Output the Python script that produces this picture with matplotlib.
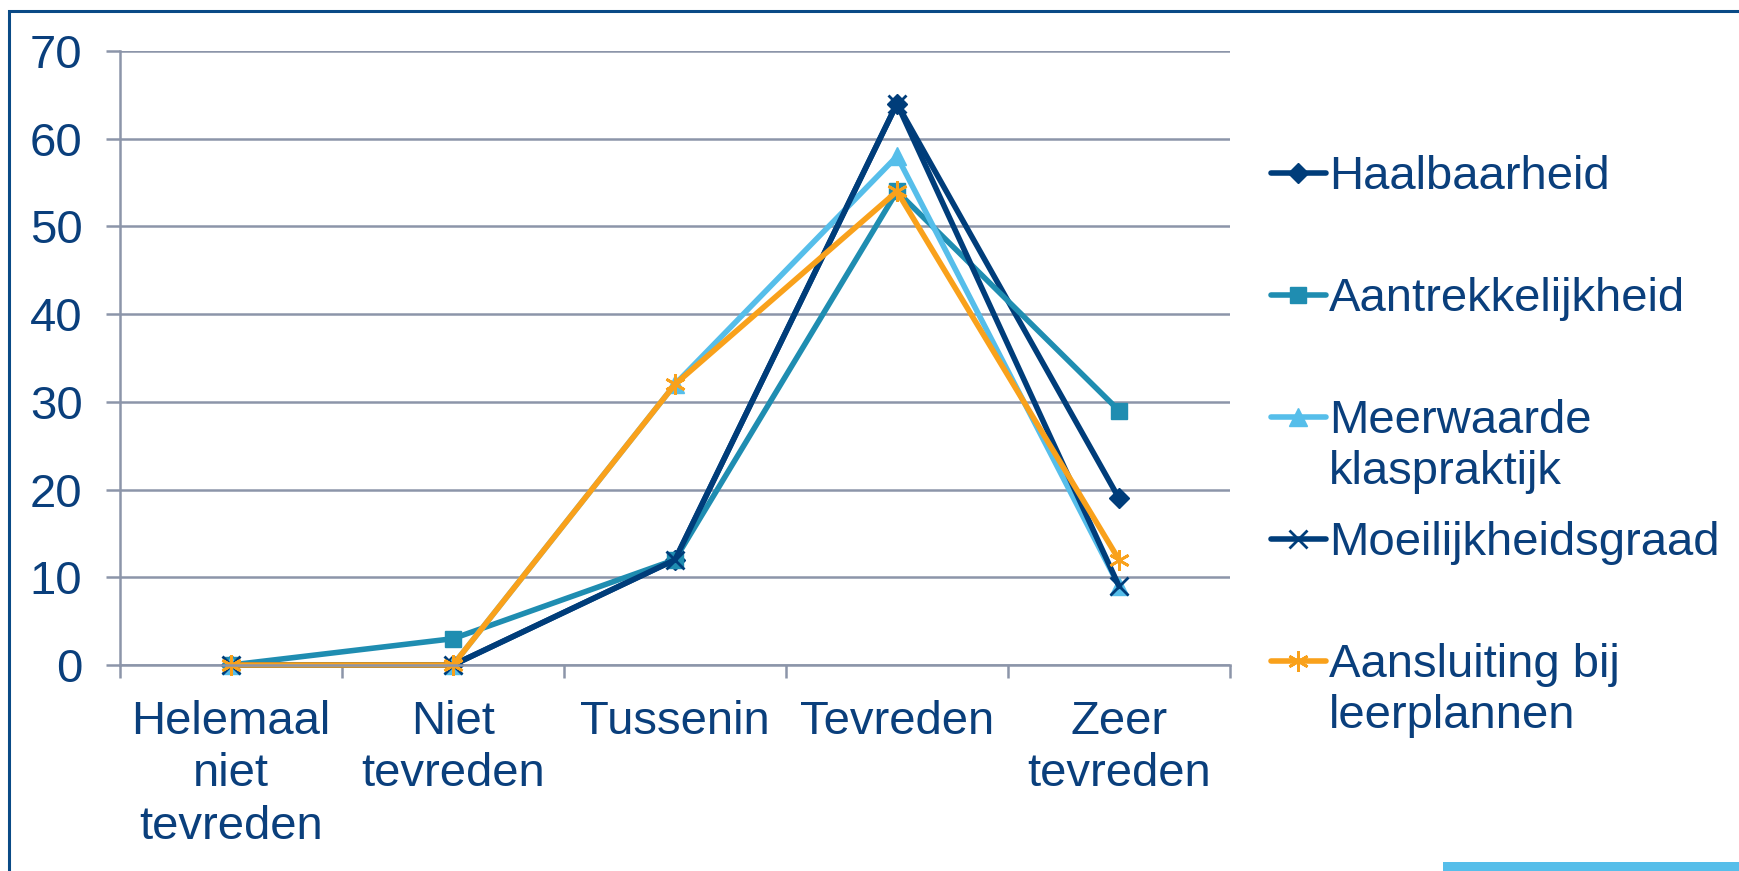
import matplotlib.pyplot as plt
from matplotlib.lines import Line2D
from matplotlib.patches import Rectangle

# Survey categories and percentages per criterion
categories = ['Helemaal\nniet\ntevreden', 'Niet\ntevreden', 'Tussenin', 'Tevreden', 'Zeer\ntevreden']
haalbaarheid = [0, 0, 12, 64, 19]
aantrekkelijkheid = [0, 3, 12, 54, 29]
meerwaarde = [0, 0, 32, 58, 9]
moeilijkheidsgraad = [0, 0, 12, 64, 9]
aansluiting = [0, 0, 32, 54, 12]
series_labels = ['Haalbaarheid', 'Aantrekkelijkheid', 'Meerwaarde\nklaspraktijk',
                 'Moeilijkheidsgraad', 'Aansluiting bij\nleerplannen']
y_ticks = [0, 10, 20, 30, 40, 50, 60, 70]

TEXT = '#0a3f7c'
GRID = '#8c95a9'
NAVY = '#003d7a'
TEAL = '#1f8db1'
SKY = '#56beea'
ORANGE = '#f9a11b'
ASTERISK = (6, 2, 0)

styles = [
    dict(color=NAVY, marker='D', ms=10),
    dict(color=TEAL, marker='s', ms=12),
    dict(color=SKY, marker='^', ms=13),
    dict(color=NAVY, marker='x', ms=13, mew=2),
    dict(color=ORANGE, marker=ASTERISK, ms=15, mew=2),
]

plt.rcParams['font.family'] = ['Liberation Sans', 'DejaVu Sans']

W, H = 1740, 871
fig = plt.figure(figsize=(W / 100, H / 100), dpi=100)

# plot area in pixel terms
left, right, top, bottom = 120, 1230, 51, 665
ax = fig.add_axes([left / W, 1 - bottom / H, (right - left) / W, (bottom - top) / H])

x = range(len(categories))
all_series = [haalbaarheid, aantrekkelijkheid, meerwaarde, moeilijkheidsgraad, aansluiting]
for values, st in zip(all_series, styles):
    ax.plot(x, values, lw=4, color=st['color'], marker=st['marker'],
            ms=st['ms'], mew=st.get('mew', 1), mfc=st['color'], mec=st['color'],
            solid_joinstyle='miter', clip_on=False)

ax.set_xlim(-0.5, len(categories) - 0.5)
ax.set_ylim(0, 70)
ax.set_yticks(y_ticks)
ax.yaxis.grid(True, color=GRID, lw=1.8)
ax.set_axisbelow(True)

# category separators as major ticks, labels centred on minor ticks
ax.set_xticks([i - 0.5 for i in range(len(categories) + 1)])
ax.set_xticklabels([])
ax.set_xticks(list(x), minor=True)
ax.set_xticklabels(categories, minor=True, fontsize=34, color=TEXT, linespacing=1.25)
ax.tick_params(axis='x', which='major', length=9, width=1.8, color=GRID)
ax.tick_params(axis='x', which='minor', length=0, pad=25)
ax.tick_params(axis='y', length=10, width=1.8, color=GRID, labelsize=34,
               labelcolor=TEXT, pad=17)

for side in ['top', 'right']:
    ax.spines[side].set_visible(False)
for side in ['left', 'bottom']:
    ax.spines[side].set_color(GRID)
    ax.spines[side].set_linewidth(1.8)

# legend drawn entry by entry so the handle sits on the first text line
leg_x0, leg_x1, leg_text = 1271, 1326, 1329
leg_y0, leg_step = 173, 122
for i, (label, st) in enumerate(zip(series_labels, styles)):
    yf = 1 - (leg_y0 + i * leg_step) / H
    fig.add_artist(Line2D([leg_x0 / W, leg_x1 / W], [yf, yf], color=st['color'], lw=4,
                          solid_capstyle='round'))
    fig.add_artist(Line2D([(leg_x0 + leg_x1) / 2 / W], [yf], color=st['color'],
                          marker=st['marker'], ms=st['ms'], mew=st.get('mew', 1),
                          mfc=st['color'], mec=st['color'], lw=0))
    fig.text(leg_text / W, yf + 18 / H, label, fontsize=34, color=TEXT,
             va='top', ha='left', linespacing=1.2)

# outer frame and accent bar
fig.add_artist(Rectangle((9 / W, -0.1), 1.2, 1.1 - 11 / H, transform=fig.transFigure,
                         fill=False, ec='#0a4a86', lw=2.2))
fig.add_artist(Rectangle((1443 / W, 0), (W - 1443) / W, 9 / H, transform=fig.transFigure,
                         color=SKY, lw=0))

fig.savefig('out.png', dpi=100)
